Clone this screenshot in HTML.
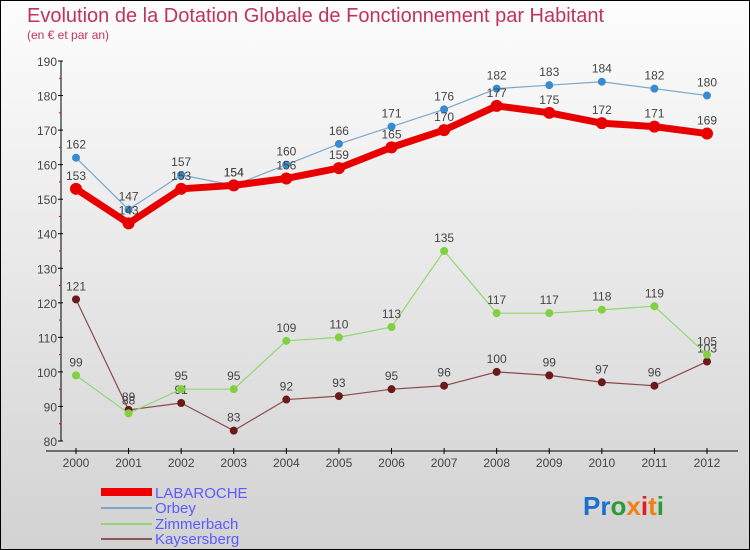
<!DOCTYPE html>
<html><head><meta charset="utf-8"><style>
html,body{margin:0;padding:0}
#wrap{width:748px;height:548px;border:1px solid #000;background:linear-gradient(#fdfdfd,#d2d2d2);position:relative;overflow:hidden;font-family:"Liberation Sans",sans-serif}
</style></head><body>
<div id="wrap">
<svg id="svg" width="748" height="548">
<text x="26" y="21" font-size="20" fill="#c0335a">Evolution de la Dotation Globale de Fonctionnement par Habitant</text>
<text x="26" y="38" font-size="12" fill="#c0335a">(en € et par an)</text>
<g id="axes"></g><g id="series"></g>
<g>
<rect x="100" y="487" width="51" height="8" fill="#e00"/>
<text x="154" y="497" font-size="15" fill="#5a5aff">LABAROCHE</text>
<rect x="100" y="506" width="51" height="2" fill="#7aa9cc"/>
<text x="154" y="512" font-size="15" fill="#5a5aff">Orbey</text>
<rect x="100" y="522" width="51" height="2" fill="#90d870"/>
<text x="154" y="528" font-size="15" fill="#5a5aff">Zimmerbach</text>
<rect x="100" y="537" width="51" height="2" fill="#8a5a5a"/>
<text x="154" y="543" font-size="15" fill="#5a5aff">Kaysersberg</text>
</g>
<text x="582" y="514" font-size="26" font-weight="bold"><tspan fill="#1a6fd0">Pr</tspan><tspan fill="#2a9a3a">o</tspan><tspan fill="#f08010">x</tspan><tspan fill="#e02020">i</tspan><tspan fill="#f08010">t</tspan><tspan fill="#2a9a3a">i</tspan></text>
</svg></div>
<script>
const years=["2000","2001","2002","2003","2004","2005","2006","2007","2008","2009","2010","2011","2012"];
const yTicks=[80,90,100,110,120,130,140,150,160,170,180,190];
const labaroche=[153,143,153,154,156,159,165,170,177,175,172,171,169];
const orbey=[162,147,157,154,160,166,171,176,182,183,184,182,180];
const zimmerbach=[99,88,95,95,109,110,113,135,117,117,118,119,105];
const kaysersberg=[121,89,91,83,92,93,95,96,100,99,97,96,103];
const NS="http://www.w3.org/2000/svg";
const X=i=>75+i*(706-75)/12;
const Y=v=>440-(v-80)*(380/110);
function mk(t,a,p){const e=document.createElementNS(NS,t);for(const k in a)e.setAttribute(k,a[k]);p.appendChild(e);return e;}
const ax=document.getElementById('axes');
let e=mk('line',{x1:60,y1:Y(190),x2:60,y2:Y(80),stroke:'#000','stroke-width':1},ax);


e=mk('line',{x1:45,y1:450,x2:737,y2:450,stroke:'#000','stroke-width':1},ax);


yTicks.forEach(v=>{mk('line',{x1:57,y1:Y(v),x2:62,y2:Y(v),stroke:'#000'},ax);
 if(v<190)mk('line',{x1:58,y1:Y(v+5),x2:60,y2:Y(v+5),stroke:'#e00'},ax);
 const t=mk('text',{x:56,y:Y(v)+5,'font-size':12,fill:'#444','text-anchor':'end'},ax);t.textContent=v;
 
 });
years.forEach((y,i)=>{mk('line',{x1:X(i),y1:447,x2:X(i),y2:453,stroke:'#000'},ax);
 const t=mk('text',{x:X(i),y:466,'font-size':12,fill:'#444','text-anchor':'middle'},ax);t.textContent=y;
 
 });
const sg=document.getElementById('series');
function series(vals,name,col,dot,w,r){
 const g=mk('g',{},sg);
 
 
 mk('polyline',{points:vals.map((v,i)=>X(i)+','+Y(v)).join(' '),fill:'none',stroke:col,'stroke-width':w,'stroke-linejoin':'round'},g);
 vals.forEach((v,i)=>{const c=mk('circle',{cx:X(i),cy:Y(v),r:r,fill:dot},g);
  
  
  const t=mk('text',{x:X(i),y:Y(v)-9,'font-size':12,fill:'#444','text-anchor':'middle'},g);t.textContent=v;});
}
series(kaysersberg,'kaysersberg','#8a4a4a','#6a1a1a',1.2,4);
series(zimmerbach,'zimmerbach','#90d870','#80d040',1.2,4);
series(orbey,'orbey','#7aa9cc','#3a8ad0',1.2,4);
series(labaroche,'labaroche','#e80000','#e80000',7,6);
</script></body></html>
